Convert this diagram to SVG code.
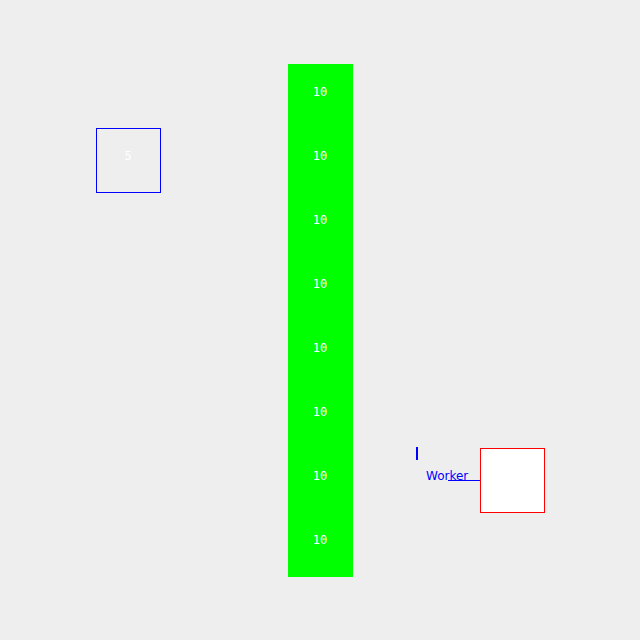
<svg xmlns="http://www.w3.org/2000/svg" width="640" height="640" viewBox="0 0 640 640">
<style>
.n{font-family:"DejaVu Sans Mono",monospace;font-size:12px;fill:#ffffff;text-anchor:middle}
.lbl{font-family:"DejaVu Sans",sans-serif;font-size:12px;fill:#0000ff}
</style>
<rect width="640" height="640" fill="#eeeeee"/>
<g id="column">
<rect x="288" y="64" width="65" height="513" fill="#00ff00"/>
<text class="n" x="320" y="96">10</text>
<text class="n" x="320" y="160">10</text>
<text class="n" x="320" y="224">10</text>
<text class="n" x="320" y="288">10</text>
<text class="n" x="320" y="352">10</text>
<text class="n" x="320" y="416">10</text>
<text class="n" x="320" y="480">10</text>
<text class="n" x="320" y="544">10</text>
</g>
<g id="box5">
<rect x="96.5" y="128.5" width="64" height="64" fill="none" stroke="#0000ff" stroke-width="1"/>
<text class="n" x="128" y="160">5</text>
</g>
<g id="worker">
<rect x="480.5" y="448.5" width="64" height="64" fill="#ffffff" stroke="#ff0000" stroke-width="1"/>
</g>
<g id="connectors">
<line x1="448" y1="480.5" x2="480" y2="480.5" stroke="#0000ff" stroke-width="1"/>
<text class="lbl" x="426" y="480">Worker</text>
<rect x="416" y="447" width="2" height="13" fill="#0000ff"/>
</g>
</svg>
